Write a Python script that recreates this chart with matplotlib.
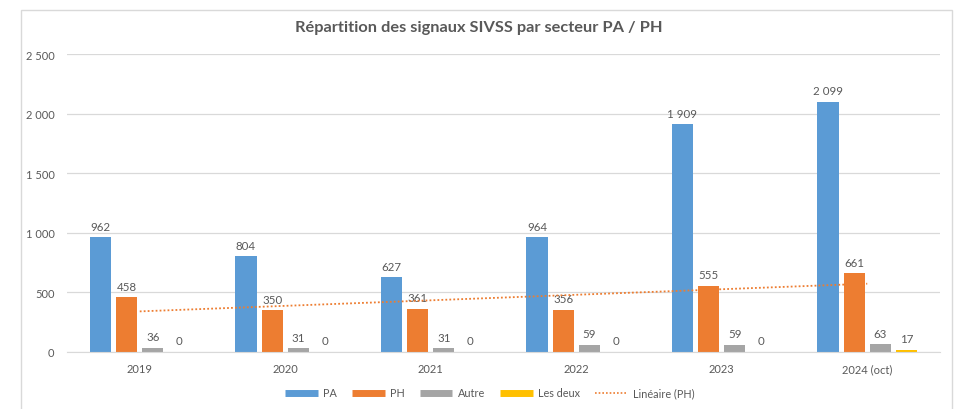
import numpy as np
import matplotlib
matplotlib.use("Agg")
import matplotlib.pyplot as plt
from matplotlib.lines import Line2D
from matplotlib.patches import Rectangle
from matplotlib.ticker import FuncFormatter

categories = ["2019", "2020", "2021", "2022", "2023", "2024 (oct)"]
pa = [962, 804, 627, 964, 1909, 2099]
ph = [458, 350, 361, 356, 555, 661]
autre = [36, 31, 31, 59, 59, 63]
les_deux = [0, 0, 0, 0, 0, 17]
series_names = ["PA", "PH", "Autre", "Les deux"]
colors = ["#5B9BD5", "#ED7D31", "#A5A5A5", "#FFC000"]
title = "Répartition des signaux SIVSS par secteur PA / PH"

plt.rcParams['font.family'] = ['Lato', 'DejaVu Sans']
txt = "#595959"

fig = plt.figure(figsize=(9.58, 4.10), dpi=100)
ax = fig.add_axes([67/958, 57/410, 873/958, 298/410])

x = np.arange(len(categories))
step = 0.18
width = 0.145
offsets = [-1.5, -0.5, 0.5, 1.5]
for vals, name, col, off in zip([pa, ph, autre, les_deux], series_names, colors, offsets):
    xs = x + off * step
    ax.bar(xs, vals, width=width, color=col, zorder=2)
    for xi, v in zip(xs, vals):
        lbl = f"{v:,}".replace(",", " ")
        ax.annotate(lbl, (xi, v), xytext=(0, 4), textcoords="offset points",
                    ha="center", va="bottom", fontsize=8.3, color=txt)

# linear trendline for PH
coef = np.polyfit(x, ph, 1)
ax.plot(x, np.polyval(coef, x), linestyle=(0, (1, 1.2)), color="#ED7D31", lw=1.3, zorder=3)

ax.set_xlim(-0.5, len(categories) - 0.5)
ax.set_ylim(0, 2500)
ax.set_yticks(np.arange(0, 2501, 500))
ax.yaxis.set_major_formatter(FuncFormatter(lambda v, p: f"{int(v):,}".replace(",", " ")))
ax.set_xticks(x)
ax.set_xticklabels(categories)
ax.grid(axis="y", color="#D9D9D9", lw=0.9, zorder=0)
for s in ["top", "right", "left"]:
    ax.spines[s].set_visible(False)
ax.spines["bottom"].set_color("#D9D9D9")
ax.tick_params(axis="both", length=0, labelsize=8, colors=txt)
ax.tick_params(axis="y", pad=9)
ax.tick_params(axis="x", pad=8)

fig.text(0.5, 1 - 28/410, title, ha="center", va="center", fontsize=11.8,
         fontweight="bold", color=txt)

handles = [Line2D([], [], color=c, lw=5, solid_capstyle="butt") for c in colors]
handles.append(Line2D([], [], color="#ED7D31", lw=1.2, linestyle=(0, (1, 1.2))))
labels = series_names + ["Linéaire (PH)"]
fig.legend(handles, labels, loc="center", bbox_to_anchor=(490/958, 1 - 394/410), ncol=5,
           frameon=False, fontsize=7.8, labelcolor=txt, handlelength=3.0,
           columnspacing=1.4, handletextpad=0.5)

fig.add_artist(Rectangle((21/958, -0.01), (952-21)/958, (410-11)/410 + 0.01,
                         transform=fig.transFigure, fill=False, edgecolor="#D9D9D9", lw=1))

fig.savefig("out.png", dpi=100)
